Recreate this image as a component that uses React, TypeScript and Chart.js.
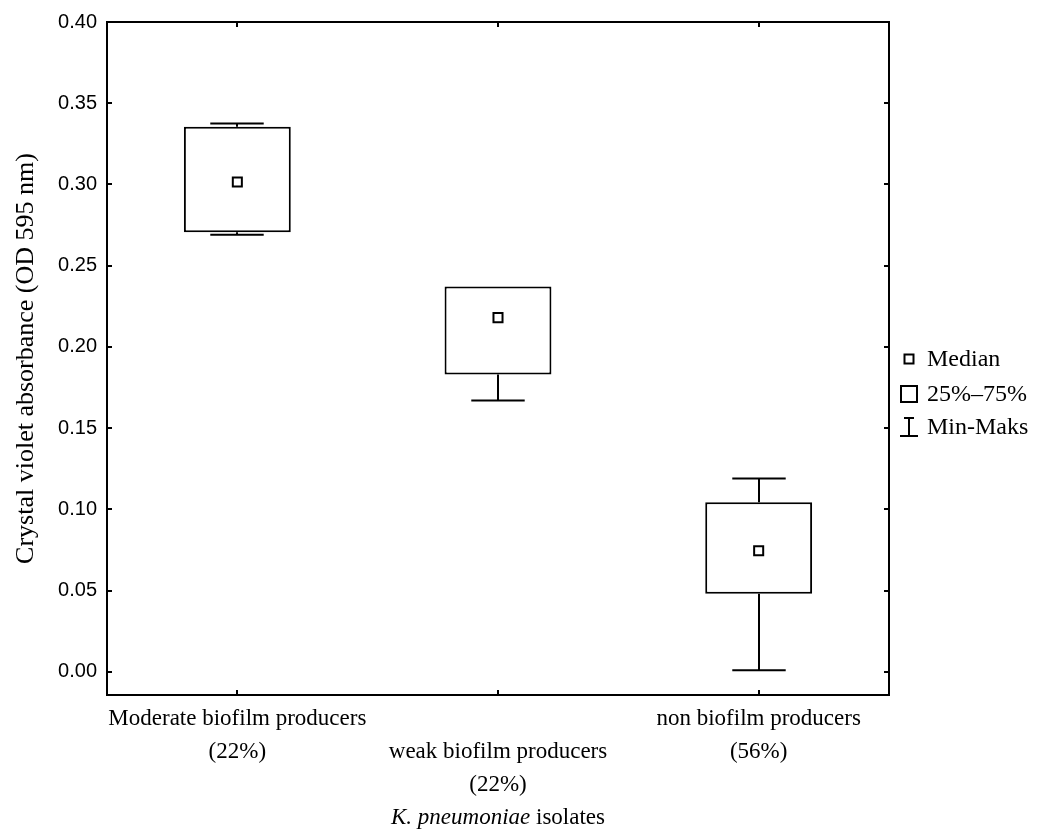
import React, { useEffect, useRef } from "react";
import { Chart, registerables } from "chart.js";

Chart.register(...registerables);

const categoryNames = ["Moderate biofilm producers", "weak biofilm producers", "non biofilm producers"];
const categoryShares = ["(22%)", "(22%)", "(56%)"];
const minValues = [0.269, 0.167, 0.001];
const q1Values = [0.2705, 0.183, 0.048];
const medianValues = [0.3015, 0.218, 0.0745];
const q3Values = [0.3355, 0.2372, 0.1043];
const maxValues = [0.3375, 0.2372, 0.119];
const yTickValues = [0, 0.05, 0.1, 0.15, 0.2, 0.25, 0.3, 0.35, 0.4];
const legendLabels = ["Median", "25%\u201375%", "Min-Maks"];
const yTitle = "Crystal violet absorbance (OD 595 nm)";
const xTitleItalic = "K. pneumoniae";
const xTitleRest = " isolates";

const SERIF = "'Liberation Serif', 'Times New Roman', serif";
const SANS = "'Liberation Sans', Arial, sans-serif";

const decorPlugin = {
  id: "decor",
  beforeDatasetsDraw(chart: any) {
    const ctx = chart.ctx;
    const xs = chart.scales.x;
    const ys = chart.scales.y;
    const meta = chart.getDatasetMeta(1);
    ctx.save();
    ctx.strokeStyle = "#000";
    ctx.lineWidth = 2;
    ctx.lineCap = "butt";
    minValues.forEach((mn, i) => {
      const cx = Math.round(xs.getPixelForValue(i));
      const bw = meta.data[i] ? meta.data[i].width : 100;
      const half = bw * 0.25;
      const yMax = ys.getPixelForValue(maxValues[i]);
      const yQ3 = ys.getPixelForValue(q3Values[i]);
      const yQ1 = ys.getPixelForValue(q1Values[i]);
      const yMin = ys.getPixelForValue(mn);
      ctx.beginPath();
      if (maxValues[i] > q3Values[i]) {
        ctx.moveTo(cx, yQ3);
        ctx.lineTo(cx, yMax);
        ctx.moveTo(cx - half, yMax);
        ctx.lineTo(cx + half, yMax);
      }
      if (mn < q1Values[i]) {
        ctx.moveTo(cx, yQ1);
        ctx.lineTo(cx, yMin);
        ctx.moveTo(cx - half, yMin);
        ctx.lineTo(cx + half, yMin);
      }
      ctx.stroke();
    });
    ctx.restore();
  },
  afterDraw(chart: any) {
    const ctx = chart.ctx;
    const { left, right, top, bottom } = chart.chartArea;
    const xs = chart.scales.x;
    const ys = chart.scales.y;
    ctx.save();
    ctx.strokeStyle = "#000";
    ctx.lineWidth = 2;
    // frame
    ctx.strokeRect(left, top, right - left, bottom - top);
    // inward ticks
    ctx.beginPath();
    yTickValues.forEach((v) => {
      const py = Math.round(ys.getPixelForValue(v));
      ctx.moveTo(left, py);
      ctx.lineTo(left + 5, py);
      ctx.moveTo(right, py);
      ctx.lineTo(right - 5, py);
    });
    categoryNames.forEach((_, i) => {
      const px = Math.round(xs.getPixelForValue(i));
      ctx.moveTo(px, bottom);
      ctx.lineTo(px, bottom - 5);
      ctx.moveTo(px, top);
      ctx.lineTo(px, top + 5);
    });
    ctx.stroke();

    // legend
    const lx = 909;
    const rows = [359, 394, 427];
    ctx.lineWidth = 2;
    ctx.strokeRect(lx - 4.5, rows[0] - 4.5, 9, 9);
    ctx.strokeRect(lx - 8, rows[1] - 8, 16, 16);
    ctx.beginPath();
    ctx.moveTo(lx - 5, rows[2] - 9);
    ctx.lineTo(lx + 5, rows[2] - 9);
    ctx.moveTo(lx, rows[2] - 9);
    ctx.lineTo(lx, rows[2] + 9);
    ctx.moveTo(lx - 9, rows[2] + 9);
    ctx.lineTo(lx + 9, rows[2] + 9);
    ctx.stroke();
    ctx.fillStyle = "#000";
    ctx.font = `24px ${SERIF}`;
    ctx.textBaseline = "middle";
    ctx.textAlign = "left";
    legendLabels.forEach((t, i) => ctx.fillText(t, 927, rows[i] + 1));

    // x title with italic species name
    const cx = (left + right) / 2;
    const ty = 818;
    ctx.font = `italic 23px ${SERIF}`;
    const w1 = ctx.measureText(xTitleItalic).width;
    ctx.font = `23px ${SERIF}`;
    const w2 = ctx.measureText(xTitleRest).width;
    const sx = cx - (w1 + w2) / 2;
    ctx.font = `italic 23px ${SERIF}`;
    ctx.fillText(xTitleItalic, sx, ty);
    ctx.font = `23px ${SERIF}`;
    ctx.fillText(xTitleRest, sx + w1, ty);
    ctx.restore();
  },
};

export default function App() {
  const canvasRef = useRef<HTMLCanvasElement | null>(null);

  useEffect(() => {
    document.body.style.margin = "0";
    const canvas = canvasRef.current;
    if (!canvas) return;
    const labels = categoryNames.map((n, i) =>
      i % 2 === 1 ? ["", n, categoryShares[i]] : [n, categoryShares[i]]
    );
    const chart = new Chart(canvas, {
      type: "bar",
      data: {
        labels,
        datasets: [
          {
            type: "line",
            label: "Median",
            data: medianValues,
            showLine: false,
            pointStyle: "rect",
            pointRadius: 6.4,
            pointBorderWidth: 2,
            pointBackgroundColor: "#fff",
            pointBorderColor: "#000",
            order: 0,
          } as any,
          {
            type: "bar",
            label: "25%-75%",
            data: q1Values.map((q, i) => [q, q3Values[i]]),
            backgroundColor: "#fff",
            borderColor: "#000",
            borderWidth: 2,
            borderSkipped: false,
            barPercentage: 0.41,
            categoryPercentage: 1,
            order: 1,
          } as any,
        ],
      },
      options: {
        animation: false,
        responsive: false,
        maintainAspectRatio: false,
        events: [],
        layout: { padding: { top: 20, right: 159, left: 0, bottom: 0 } },
        plugins: {
          legend: { display: false },
          tooltip: { enabled: false },
          title: { display: false },
        },
        scales: {
          x: {
            type: "category",
            offset: true,
            grid: { display: false, drawTicks: false },
            border: { display: false },
            ticks: {
              autoSkip: false,
              maxRotation: 0,
              minRotation: 0,
              padding: 7,
              color: "#000",
              font: { family: SERIF, size: 23, lineHeight: 33 / 23 },
            },
            afterFit: (scale: any) => {
              scale.height = 139;
            },
          },
          y: {
            type: "linear",
            min: -0.0143,
            max: 0.4,
            grid: { display: false, drawTicks: false },
            border: { display: false },
            afterBuildTicks: (scale: any) => {
              scale.ticks = yTickValues.map((v) => ({ value: v }));
            },
            ticks: {
              padding: 10,
              color: "#000",
              font: { family: SANS, size: 20 },
              callback: (v: any) => Number(v).toFixed(2),
            },
            title: {
              display: true,
              text: yTitle,
              color: "#000",
              font: { family: SERIF, size: 26, lineHeight: 1.2 },
              padding: { top: 11, bottom: 0 },
            },
            afterFit: (scale: any) => {
              scale.width = 107;
            },
          },
        },
      },
      plugins: [decorPlugin],
    } as any);
    return () => chart.destroy();
  }, []);

  return (
    <div style={{ position: "absolute", left: 0, top: 0, width: 1048, height: 834, background: "#fff" }}>
      <canvas ref={canvasRef} width={1048} height={834} style={{ width: 1048, height: 834 }} />
    </div>
  );
}
